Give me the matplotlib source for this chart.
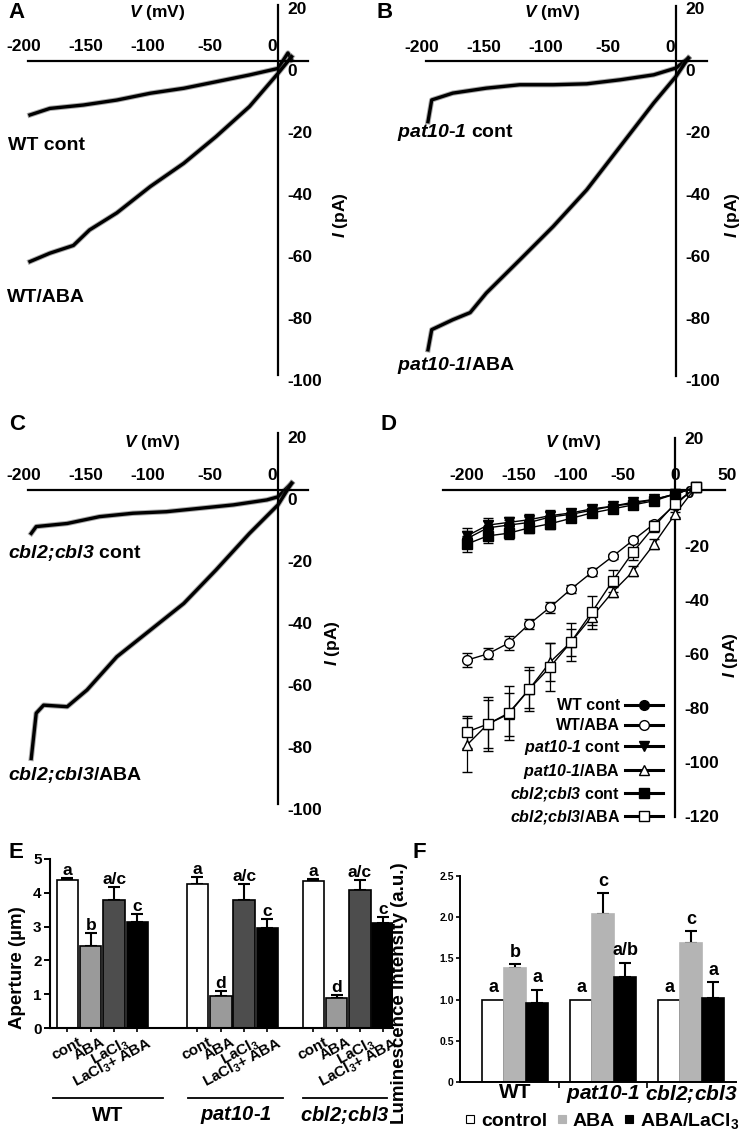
import matplotlib
matplotlib.use('Agg')
import matplotlib.pyplot as plt
from matplotlib.lines import Line2D
from matplotlib.transforms import ScaledTranslation

plt.rcParams['font.family'] = ['Liberation Sans', 'DejaVu Sans']
plt.rcParams['font.weight'] = 'bold'
plt.rcParams['axes.unicode_minus'] = False
plt.rcParams['mathtext.fontset'] = 'custom'
plt.rcParams['mathtext.it'] = 'Liberation Sans:bold:italic'
plt.rcParams['mathtext.rm'] = 'Liberation Sans:bold:italic'
plt.rcParams['mathtext.bf'] = 'Liberation Sans:bold'

W, H = 742, 1132

PAT = r'$pat10$-$1$'
CBL = r'$cbl2;\!cbl3$'

# ---- A-C: raw I-V traces (V in mV, I in pA)
a_cont_v = [-200, -184, -157, -130, -103, -76, -50, -23, 0, 8, 11]
a_cont_i = [-17.4, -15.3, -14.2, -12.6, -10.4, -8.8, -6.7, -4.5, -2.4, 2.6, 0.3]
a_aba_v = [-200, -184, -165, -152, -130, -103, -76, -50, -23, 0, 11]
a_aba_i = [-64.7, -62, -59.5, -54.5, -49, -40.5, -33, -24.4, -14.7, -4, 1.4]

b_cont_v = [-200, -197, -180, -153, -126, -99, -72, -45, -18, 0, 10]
b_cont_i = [-19.4, -12.4, -10.2, -8.6, -7.5, -7.5, -7.2, -5.9, -4.3, -2.1, 1.1]
b_aba_v = [-200, -197, -180, -166, -153, -126, -99, -72, -45, -18, 0, 10]
b_aba_i = [-93, -86.5, -83.3, -81, -74.7, -64, -53.2, -41.4, -27.4, -13.4, -4.8, 1.1]

c_cont_v = [-199, -195, -170, -144, -117, -90, -63, -36, -9, 0, 11]
c_cont_i = [-14, -11.8, -10.8, -8.6, -7.5, -7, -5.9, -4.8, -3.2, -2.2, 2.2]
c_aba_v = [-199, -195, -189, -170, -154, -130, -103, -76, -50, -23, 0, 11]
c_aba_i = [-86.6, -72, -69.4, -69.9, -64.5, -53.8, -45.2, -36.6, -25.8, -14, -4.8, 2.2]

# ---- D: mean I-V with errors
d_v = [-200, -180, -160, -140, -120, -100, -80, -60, -40, -20, 0, 20]
d_wt_cont = [-18, -14, -13, -12, -10, -9, -7.5, -6, -5, -3.5, -1.5, 1]
d_wt_cont_err = [3, 2.5, 2, 2, 2, 1.5, 1.5, 1, 1, 1, 1, 1]
d_wt_aba = [-63, -60.7, -56.7, -49.6, -43.4, -36.7, -30.5, -24.6, -18.5, -12.5, -5.5, 1]
d_wt_aba_err = [2.5, 2, 2.5, 2, 2, 1.5, 1.5, 1, 1, 1, 1, 1]
d_pat_cont = [-17, -13, -12, -11, -9.5, -8.5, -7, -6, -4.5, -3.5, -1.5, 1]
d_pat_cont_err = [3, 2.5, 2, 2, 2, 1.5, 1.5, 1, 1, 1, 1, 1]
d_pat_aba = [-94.4, -86.7, -83, -73.7, -63.7, -56.3, -47, -37.8, -30, -20, -9, 1]
d_pat_aba_err = [10, 9, 8, 7, 7, 5, 3, 2, 2, 2, 1, 1]
d_cbl_cont = [-20, -17, -16, -14, -12.5, -10.5, -8.5, -7, -5.5, -4, -1.5, 1]
d_cbl_cont_err = [3, 2.5, 2, 2, 2, 1.5, 1.5, 1, 1, 1, 1, 1]
d_cbl_aba = [-89.6, -86.7, -82.6, -73.7, -65.5, -56.3, -45.3, -33.7, -22.8, -13.5, -5, 1]
d_cbl_aba_err = [6, 10, 10, 8, 9, 7, 6, 4, 3, 2, 1.5, 1]

# ---- E: stomatal aperture
e_groups = ['WT', PAT, CBL]
e_treat = ['cont', 'ABA', r'LaCl$_\mathregular{3}$', r'LaCl$_\mathregular{3}$+ ABA']
e_wt = [4.37, 2.42, 3.80, 3.13]
e_wt_err = [0.07, 0.38, 0.38, 0.23]
e_pat = [4.26, 0.94, 3.78, 2.96]
e_pat_err = [0.20, 0.16, 0.47, 0.27]
e_cbl = [4.35, 0.90, 4.08, 3.12]
e_cbl_err = [0.05, 0.08, 0.30, 0.16]
e_letters = ['a', 'b', 'a/c', 'c', 'a', 'd', 'a/c', 'c', 'a', 'd', 'a/c', 'c']
e_colors = ['white', '#9a9a9a', '#4d4d4d', 'black']

# ---- F: luminescence
f_groups = ['WT', PAT, CBL]
f_treat = ['control', 'ABA', r'ABA/LaCl$_\mathregular{3}$']
f_control = [1.0, 1.0, 1.0]
f_aba = [1.38, 2.04, 1.69]
f_aba_err = [0.05, 0.25, 0.14]
f_la = [0.96, 1.28, 1.02]
f_la_err = [0.16, 0.17, 0.19]
f_letters = [['a', 'a', 'a'], ['b', 'c', 'c'], ['a', 'a/b', 'a']]
f_colors = ['white', '#b4b4b4', 'black']

fig = plt.figure(figsize=(W / 100, H / 100), dpi=100)


def ptext(x, y, s, **kw):
    fig.text(x / W, 1 - y / H, s, **kw)


def shift(labels, dx, dy):
    off = ScaledTranslation(dx / 100, dy / 100, fig.dpi_scale_trans)
    for lab in labels:
        lab.set_transform(lab.get_transform() + off)


def iv_panel(ox, oy, sx, sy, xlim, ylim, xb, yb, xticks, yticks, xdx, ydy):
    ax = fig.add_axes([(ox + xlim[0] * sx) / W, 1 - (oy - ylim[0] * sy) / H,
                       (xlim[1] - xlim[0]) * sx / W, (ylim[1] - ylim[0]) * sy / H])
    ax.set_xlim(xlim)
    ax.set_ylim(ylim)
    ax.patch.set_visible(False)
    ax.spines['left'].set_visible(False)
    ax.spines['bottom'].set_visible(False)
    ax.spines['top'].set_position(('data', 0))
    ax.spines['top'].set_bounds(*xb)
    ax.spines['right'].set_position(('data', 0))
    ax.spines['right'].set_bounds(*yb)
    ax.spines['top'].set_linewidth(1.6)
    ax.spines['right'].set_linewidth(1.6)
    ax.xaxis.tick_top()
    ax.yaxis.tick_right()
    ax.set_xticks(xticks, [str(t) for t in xticks])
    ax.set_yticks(yticks, [str(t) for t in yticks])
    ax.tick_params(axis='x', length=0, pad=5, labelsize=12.5)
    ax.tick_params(axis='y', length=0, pad=7, labelsize=12.5)
    shift(ax.get_xticklabels(), xdx, 0)
    shift(ax.get_yticklabels(), 0, ydy)
    return ax


def trace(ax, v, i):
    ax.plot(v, i, color='#444444', lw=3.8, alpha=0.45, solid_joinstyle='round')
    ax.plot(v, i, color='black', lw=2.4, solid_joinstyle='round')


iv_x = [-200, -150, -100, -50, 0]
iv_y = [20, 0, -20, -40, -60, -80, -100]

# A
ax_a = iv_panel(278, 61, 1.24, 3.1, (-205, 26), (-102, 20.5),
                (-201.6, 24.2), (-101.3, 18), iv_x, iv_y, -6, -9)
trace(ax_a, a_cont_v, a_cont_i)
trace(ax_a, a_aba_v, a_aba_i)
ptext(8, 145, 'WT cont', fontsize=14, va='center')
ptext(7, 297, 'WT/ABA', fontsize=14, va='center')

# B
ax_b = iv_panel(676, 61.5, 1.24, 3.1, (-205, 26), (-102, 20.5),
                (-201.6, 25), (-101.3, 18), iv_x, iv_y, -6, -9)
trace(ax_b, b_cont_v, b_cont_i)
trace(ax_b, b_aba_v, b_aba_i)
ptext(397, 133, PAT + ' cont', fontsize=14, va='center')
ptext(397, 365, PAT + '/ABA', fontsize=14, va='center')

# C
ax_c = iv_panel(278, 490, 1.24, 3.1, (-205, 26), (-102, 20.5),
                (-201.6, 24.2), (-101.3, 18.4), iv_x, iv_y, -6, -9)
trace(ax_c, c_cont_v, c_cont_i)
trace(ax_c, c_aba_v, c_aba_i)
ptext(8, 553, CBL + ' cont', fontsize=14, va='center')
ptext(8, 775, CBL + '/ABA', fontsize=14, va='center')

# D
ax_d = iv_panel(675, 490, 1.04, 2.7, (-225, 51), (-121, 21),
                (-223, 48), (-121, 19.3), [-200, -150, -100, -50, 0, 50],
                [20, 0, -20, -40, -60, -80, -100, -120], 0, -2)
d_series = [
    (d_wt_cont, d_wt_cont_err, 'o', 'black', 'WT cont'),
    (d_wt_aba, d_wt_aba_err, 'o', 'white', 'WT/ABA'),
    (d_pat_cont, d_pat_cont_err, 'v', 'black', PAT + ' cont'),
    (d_pat_aba, d_pat_aba_err, '^', 'white', PAT + '/ABA'),
    (d_cbl_cont, d_cbl_cont_err, 's', 'black', CBL + ' cont'),
    (d_cbl_aba, d_cbl_aba_err, 's', 'white', CBL + '/ABA'),
]
handles = []
for vals, err, mk, fc, lab in d_series:
    ms = 6.5 if mk == 's' else 7
    ax_d.errorbar(d_v, vals, yerr=err, color='black', lw=1, elinewidth=0.9,
                  capsize=3.5, capthick=0.9, marker=mk, ms=ms, mfc=fc,
                  mec='black', mew=1, zorder=3)
    handles.append(Line2D([], [], color='black', lw=2.2, marker=mk, ms=ms,
                          mfc=fc, mec='black', mew=1))
ax_d.legend(handles, [s[4] for s in d_series], loc='lower right',
            bbox_to_anchor=(0.774, -0.025), markerfirst=False, frameon=False,
            fontsize=11.5, handlelength=2.4, handletextpad=0.3,
            labelspacing=0.3, borderpad=0, borderaxespad=0)

# axis titles of A-D
for x, y in [(157, 13), (552, 13), (152, 442), (573, 442)]:
    ptext(x, y, r'$V$ (mV)', fontsize=12.5, ha='center', va='center')
for x, y in [(340, 215), (733, 215), (333, 643), (730, 655)]:
    ptext(x, y, r'$I$ (pA)', fontsize=12.5, ha='center', va='center', rotation=90)

# E
ax_e = fig.add_axes([50 / W, 1 - 1028 / H, 343 / W, 169 / H])
e_group_x = [0, 5.58, 10.55]
e_pos = [gx + k * 1.0 for gx in e_group_x for k in range(4)]
e_vals = e_wt + e_pat + e_cbl
e_err = e_wt_err + e_pat_err + e_cbl_err
ax_e.bar(e_pos, e_vals, width=0.92, color=e_colors * 3, edgecolor='black',
         linewidth=1.2, zorder=2)
ax_e.errorbar(e_pos, e_vals, yerr=[[0] * len(e_err), e_err], fmt='none',
              ecolor='black', elinewidth=1.5, capsize=4, capthick=1.5, zorder=1)
for x, v, er, t in zip(e_pos, e_vals, e_err, e_letters):
    ax_e.annotate(t, (x, v + er), xytext=(0, 0), textcoords='offset points',
                  ha='center', va='bottom', fontsize=12.5)
ax_e.set_xlim(-0.75, -0.75 + 343 / 23.3)
ax_e.set_ylim(0, 5)
ax_e.set_yticks([0, 1, 2, 3, 4, 5])
ax_e.set_xticks(e_pos, e_treat * 3, rotation=28, ha='right', va='top',
                rotation_mode='anchor')
ax_e.tick_params(axis='y', length=4, width=1.4, pad=2, labelsize=11)
ax_e.tick_params(axis='x', length=3, width=1.2, pad=2, labelsize=11)
shift(ax_e.get_xticklabels(), 10, 0)
ax_e.spines['top'].set_visible(False)
ax_e.spines['right'].set_visible(False)
ax_e.spines['left'].set_linewidth(1.5)
ax_e.spines['bottom'].set_linewidth(1.5)
ax_e.patch.set_visible(False)
e_under = [(-0.62, 4.1), (5.17, 9.25), (10.1, 13.72)]
tr = ax_e.get_xaxis_transform()
for (x0, x1), g in zip(e_under, e_groups):
    ax_e.plot([x0, x1], [-0.414, -0.414], color='black', lw=1.3,
              transform=tr, clip_on=False)
    ax_e.text((x0 + x1) / 2, -0.515, g, transform=tr, ha='center', va='center',
              fontsize=14.5)
ptext(18, 968, 'Aperture (µm)', fontsize=13.5, rotation=90, ha='center', va='center')

# F
ax_f = fig.add_axes([460 / W, 1 - 1082 / H, 276 / W, 206 / H])
fx = [0, 1, 2]
bw = 0.25
f_series = [(f_control, None), (f_aba, f_aba_err), (f_la, f_la_err)]
for k, (vals, err) in enumerate(f_series):
    xs = [x + (k - 1) * bw for x in fx]
    ec = 'black' if k == 0 else f_colors[k]
    ax_f.bar(xs, vals, width=bw, color=f_colors[k], edgecolor=ec, linewidth=1.2,
             label=f_treat[k], zorder=2)
    if err is not None:
        ax_f.errorbar(xs, vals, yerr=[[0] * 3, err], fmt='none', ecolor='black',
                      elinewidth=1.5, capsize=4, capthick=1.5, zorder=1)
    for x, v, e, t in zip(xs, vals, err if err else [0] * 3, f_letters[k]):
        ax_f.annotate(t, (x, v + e), xytext=(0, 2.5), textcoords='offset points',
                      ha='center', va='bottom', fontsize=13)
ax_f.set_xlim(-0.625, 2.511)
ax_f.set_ylim(0, 2.5)
ax_f.set_yticks([0, 0.5, 1.0, 1.5, 2.0, 2.5], ['0', '0.5', '1.0', '1.5', '2.0', '2.5'])
ax_f.set_xticks(fx, f_groups)
ax_f.set_xticks([0.5, 1.5], minor=True)
ax_f.tick_params(axis='y', length=3, width=1.2, pad=1.5, labelsize=7.5)
ax_f.tick_params(axis='x', which='major', length=0, pad=1, labelsize=15)
ax_f.tick_params(axis='x', which='minor', length=4, width=1.2)
ax_f.spines['top'].set_visible(False)
ax_f.spines['right'].set_visible(False)
ax_f.spines['left'].set_linewidth(1.4)
ax_f.spines['bottom'].set_linewidth(1.4)
ax_f.patch.set_visible(False)
f_handles = [Line2D([], [], ls='', marker='s', ms=6, mfc=c,
                    mec='black' if c == 'white' else c, mew=0.8)
             for c in f_colors]
fig.legend(f_handles, f_treat, loc='center', bbox_to_anchor=(602 / W, 1 - 1121 / H),
           ncol=3, frameon=False, fontsize=14, handlelength=0.6, handletextpad=0.25,
           columnspacing=0.45, borderpad=0)
ptext(399, 993, 'Luminescence intensity (a.u.)', fontsize=13.5, rotation=90,
      ha='center', va='center')

# panel letters
for lab, x, y in [('A', 8, 13), ('B', 377, 12), ('C', 9, 425), ('D', 380, 425),
                  ('E', 8, 852), ('F', 413, 852)]:
    ptext(x, y, lab, fontsize=16, ha='left', va='center')

fig.savefig('out.png', dpi=100)
